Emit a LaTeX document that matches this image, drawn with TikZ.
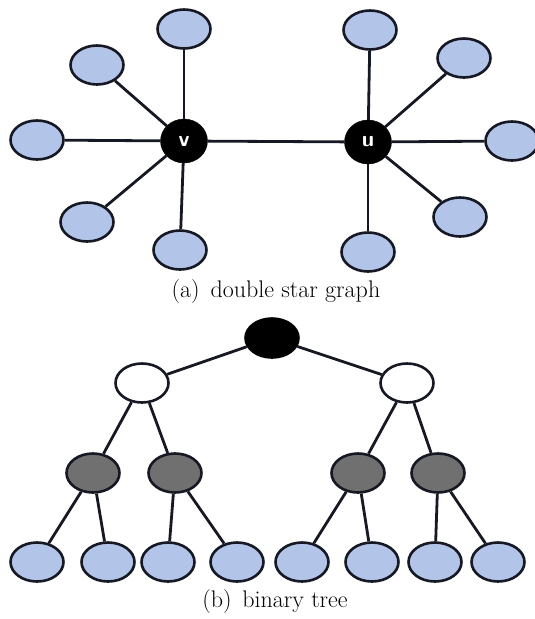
\documentclass[tikz,border=0pt]{standalone}
\usetikzlibrary{shapes.geometric}
\definecolor{leafblue}{RGB}{178,196,232}
\definecolor{midgrey}{RGB}{112,112,112}
\definecolor{rim}{RGB}{22,24,36}
\tikzset{
  vx/.style={ellipse, draw=rim, line width=2.6pt, inner sep=0pt,
             minimum width=53pt, minimum height=39pt},
  leafvx/.style={vx, fill=leafblue},
  hubvx/.style={ellipse, fill=black, draw=black, inner sep=0pt,
              minimum width=47pt, minimum height=44pt,
              text=white, font=\sffamily\bfseries\fontsize{22}{22}\selectfont},
  whitevx/.style={vx, fill=white},
  greyvx/.style={vx, fill=midgrey},
  rootvx/.style={vx, fill=black, draw=black},
  link/.style={draw=rim, line width=2.8pt},
  captext/.style={font=\fontsize{24}{28}\selectfont}
}
\begin{document}
\begin{tikzpicture}[x=1pt,y=-1pt]
\useasboundingbox (0,0) rectangle (535,619);

% double star: two centres and their pendant vertices
\node[hubvx] (v) at (184,141) {v};
\node[hubvx] (u) at (368,142) {u};

\node[leafvx] (v1) at (184,29)  {};
\node[leafvx] (v2) at (97,65)   {};
\node[leafvx] (v3) at (37,140)  {};
\node[leafvx] (v4) at (87,222)  {};
\node[leafvx] (v5) at (180,250) {};

\node[leafvx] (u1) at (370,30)  {};
\node[leafvx] (u2) at (464,58)  {};
\node[leafvx] (u3) at (512,141) {};
\node[leafvx] (u4) at (460,217) {};
\node[leafvx] (u5) at (368,252) {};

\foreach \t in {v1,v2,v3,v4,v5} \draw[link] (v) -- (\t);
\foreach \t in {u1,u2,u3,u4,u5} \draw[link] (u) -- (\t);
\draw[link] (v) -- (u);

\node[captext] (capa) at (276,292) {(a)\hspace{0.45em}double star graph};

% binary tree
\node[rootvx] (r) at (272,338) {};
\node[whitevx] (a) at (142,383) {};
\node[whitevx] (b) at (407,383) {};

\node[greyvx] (a1) at (93,473)  {};
\node[greyvx] (a2) at (175,473) {};
\node[greyvx] (b1) at (358,473) {};
\node[greyvx] (b2) at (438,473) {};

\node[leafvx] (l1) at (37,562)  {};
\node[leafvx] (l2) at (108,562) {};
\node[leafvx] (l3) at (168,562) {};
\node[leafvx] (l4) at (237,562) {};
\node[leafvx] (l5) at (302,562) {};
\node[leafvx] (l6) at (372,562) {};
\node[leafvx] (l7) at (435,562) {};
\node[leafvx] (l8) at (498,562) {};

\draw[link] (r) -- (a);
\draw[link] (r) -- (b);
\draw[link] (a) -- (a1);
\draw[link] (a) -- (a2);
\draw[link] (b) -- (b1);
\draw[link] (b) -- (b2);
\draw[link] (a1) -- (l1);
\draw[link] (a1) -- (l2);
\draw[link] (a2) -- (l3);
\draw[link] (a2) -- (l4);
\draw[link] (b1) -- (l5);
\draw[link] (b1) -- (l6);
\draw[link] (b2) -- (l7);
\draw[link] (b2) -- (l8);

\node[captext] (capb) at (275,602) {(b)\hspace{0.45em}binary tree};
\end{tikzpicture}
\end{document}
